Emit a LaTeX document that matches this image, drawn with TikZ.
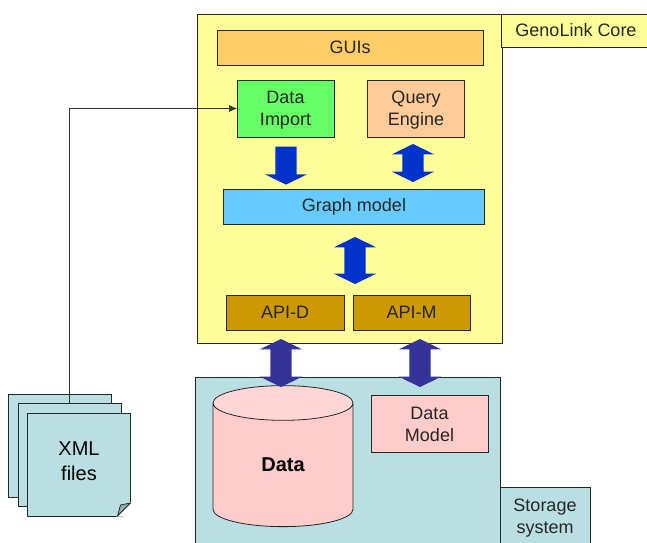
\documentclass[tikz,border=0pt]{standalone}
\usepackage{fontspec}
\setmainfont{Liberation Sans}
\usepackage{xcolor}
\usepackage{tikz}
\usetikzlibrary{positioning}
\usetikzlibrary{calc}
\usetikzlibrary{arrows.meta}
\usetikzlibrary{shapes.geometric}
\usetikzlibrary{shapes.arrows}
\definecolor{coreyellow}{HTML}{FFFF99}
\definecolor{guiorange}{HTML}{FFCC66}
\definecolor{importgreen}{HTML}{66FF66}
\definecolor{querypeach}{HTML}{FFCC99}
\definecolor{graphblue}{HTML}{66CCFF}
\definecolor{apibrown}{HTML}{CC9900}
\definecolor{storeteal}{HTML}{B9DFE2}
\definecolor{datapink}{HTML}{FFCCCC}
\definecolor{datatop}{HTML}{FFD6D6}
\definecolor{flowblue}{HTML}{0033CC}
\definecolor{linkblue}{HTML}{333399}
\definecolor{foldgrey}{HTML}{93B2B5}
\tikzset{
    box/.style={draw=black!85,line width=0.8pt,align=center,inner sep=0pt,outer sep=0pt,
        font=\fontsize{18}{22}\selectfont,text=black!85},
    twoline/.style={box,text height=38pt},
    page/.style={box,fill=storeteal,minimum width=103,minimum height=103},
    updown/.style={double arrow,rotate=90,inner xsep=0pt,inner ysep=10.5pt,outer sep=0pt,
        double arrow head extend=10.5pt,double arrow tip angle=128},
    down/.style={single arrow,rotate=-90,inner xsep=0pt,inner ysep=10.5pt,outer sep=0pt,
        single arrow head extend=10.5pt,single arrow tip angle=128},
}
\begin{document}
\begin{tikzpicture}[x=1pt,y=-1pt]
    \clip (0,0) rectangle (647,542);
    \useasboundingbox (0,0) rectangle (647,542);
    \node [box,fill=coreyellow,minimum width=305,minimum height=329] (core) at (349.5,178.5) {};
    \node [box,fill=coreyellow,minimum width=150,minimum height=33] (corelabel) at (576,30.5) {GenoLink Core};
    \node [box,fill=storeteal,minimum width=305,minimum height=180] (storage) at (347.5,467) {};
    \node [twoline,fill=storeteal,minimum width=90,minimum height=58] (storagelabel) at (545,516) {Storage\\system};

    \node [box,fill=guiorange,minimum width=266,minimum height=35] (gui) at (350,47.5) {GUIs};
    \node [twoline,fill=importgreen,minimum width=97,minimum height=57] (import) at (285.5,108.5) {Data\\Import};
    \node [twoline,fill=querypeach,minimum width=97,minimum height=57] (query) at (416,108.5) {Query\\Engine};
    \node [box,fill=graphblue,minimum width=261,minimum height=35] (graph) at (354,207) {Graph model};
    \node [box,fill=apibrown,minimum width=118,minimum height=35] (apid) at (285,312.5) {API-D};
    \node [box,fill=apibrown,minimum width=117,minimum height=35] (apim) at (411.5,312.5) {API-M};

    \node [cylinder,draw=black!85,line width=0.8pt,shape border rotate=90,aspect=0.8,inner sep=0pt,outer sep=0pt,
        cylinder uses custom fill,cylinder body fill=datapink,cylinder end fill=datatop,
        minimum width=140,minimum height=141,font=\fontsize{20}{24}\selectfont\bfseries] (data) at (283,465) {Data};
    \node [twoline,fill=datapink,minimum width=117,minimum height=57,text height=36pt] (datamodel) at (429.5,423.5) {Data\\Model};

    \node [page] (xmlback) at (60,445.5) {};
    \node [page] (xmlmid) at (69.5,454.5) {};
    \node [page,font=\fontsize{20}{25}\selectfont,text=black,text depth=6pt] (xmlfront) at (79,464.5) {XML\\files};
    \fill [white] ($(xmlfront.south east)+(-14,0.5)$) -- ($(xmlfront.south east)+(0.5,-14)$) -- ($(xmlfront.south east)+(1,1)$) -- cycle;
    \draw [line width=0.8pt,draw=black!85,fill=foldgrey,line join=round]
        ($(xmlfront.south east)+(0,-13)$) -- ($(xmlfront.south east)+(-13,0)$) -- ($(xmlfront.south east)+(-10,-11)$) -- cycle;

    \node [down,fill=flowblue,minimum height=38] (importflow) at (286,163) {};
    \node [updown,fill=flowblue,minimum height=38] (queryflow) at (413,163) {};
    \node [updown,fill=flowblue,minimum height=47] (graphflow) at (355,260.5) {};
    \node [updown,fill=linkblue,minimum height=48] (dataflow) at (281,363) {};
    \node [updown,fill=linkblue,minimum height=48] (modelflow) at (420,363) {};

    \draw [-{Latex[length=8pt,width=7pt]},line width=0.6pt,draw=black!80] (xmlmid.north) |- (import.west);
\end{tikzpicture}
\end{document}
